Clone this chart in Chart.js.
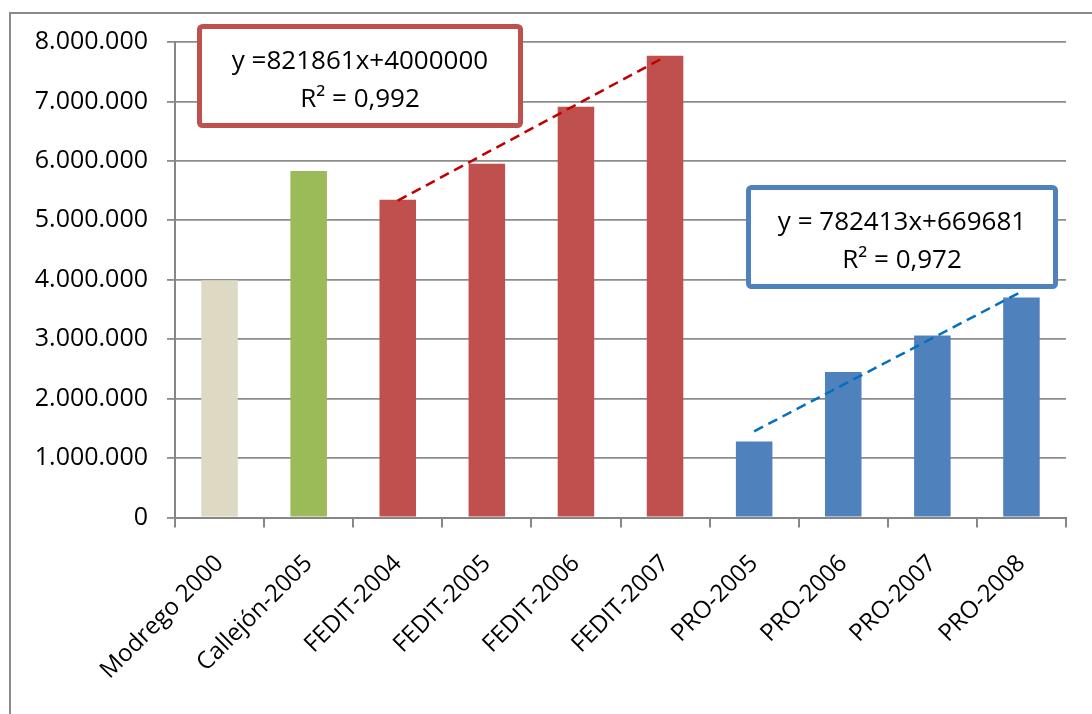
<!DOCTYPE html>
<html>
<head>
<meta charset="utf-8">
<script src="https://cdn.jsdelivr.net/npm/chart.js@4.4.1/dist/chart.umd.min.js"></script>
<style>
  body { margin: 0; background: #fff; }
  .caja { width: 1092px; height: 714px; position: relative; }
</style>
</head>
<body>
<div class="caja"><canvas id="myChart"></canvas></div>
<script>
const categorias = ['Modrego 2000', 'Callejón-2005', 'FEDIT-2004', 'FEDIT-2005', 'FEDIT-2006',
    'FEDIT-2007', 'PRO-2005', 'PRO-2006', 'PRO-2007', 'PRO-2008'];
const valores = [3990000, 5830000, 5345000, 5950000, 6910000, 7770000, 1280000, 2450000, 3060000, 3700000];
const tendenciaFedit = [null, null, 5330000, null, null, 7750000, null, null, null, null];
const tendenciaPro = [null, null, null, null, null, null, 1450000, null, null, 3800000];
const ecuacionFedit = ['y =821861x+4000000', 'R² = 0,992'];
const ecuacionPro = ['y = 782413x+669681', 'R² = 0,972'];

const colores = ['#DDD9C3', '#9BBB59', '#C0504D', '#C0504D', '#C0504D', '#C0504D',
    '#4F81BD', '#4F81BD', '#4F81BD', '#4F81BD'];
const fuente = '"Open Sans", "Liberation Sans", sans-serif';

// marco gris y cajas de las ecuaciones
const extras = {
    id: 'extras',
    beforeDraw(chart) {
        const ctx = chart.ctx;
        ctx.save();
        ctx.strokeStyle = '#8a8a8a';
        ctx.lineWidth = 2;
        ctx.beginPath();
        ctx.moveTo(10, 714);
        ctx.lineTo(10, 13);
        ctx.lineTo(1092, 13);
        ctx.stroke();
        ctx.restore();
    },
    afterDatasetsDraw(chart) {
        const ctx = chart.ctx;
        const caja = (x, y, w, h, color, lineas) => {
            ctx.save();
            ctx.fillStyle = '#fff';
            ctx.strokeStyle = color;
            ctx.lineWidth = 5;
            ctx.beginPath();
            ctx.roundRect(x, y, w, h, 3);
            ctx.fill();
            ctx.stroke();
            ctx.fillStyle = '#000';
            ctx.font = '26px ' + fuente;
            ctx.textAlign = 'center';
            ctx.textBaseline = 'alphabetic';
            ctx.fillText(lineas[0], x + w / 2, y + 42);
            ctx.fillText(lineas[1], x + w / 2, y + 80);
            ctx.restore();
        };
        caja(199.5, 26.5, 321, 99, '#C0504D', ecuacionFedit);
        caja(748.5, 187.5, 307, 99, '#4F81BD', ecuacionPro);
    }
};

const ctx = document.getElementById('myChart');
new Chart(ctx, {
    data: {
        labels: categorias,
        datasets: [{
            type: 'line',
            data: tendenciaFedit,
            borderColor: '#C00000',
            borderWidth: 2.5,
            borderDash: [10, 6],
            pointRadius: 0,
            spanGaps: true,
            order: 0
        }, {
            type: 'line',
            data: tendenciaPro,
            borderColor: '#0070C0',
            borderWidth: 2.5,
            borderDash: [10, 6],
            pointRadius: 0,
            spanGaps: true,
            order: 0
        }, {
            type: 'bar',
            data: valores,
            backgroundColor: colores,
            barPercentage: 0.41,
            categoryPercentage: 1,
            order: 1
        }]
    },
    options: {
        responsive: true,
        maintainAspectRatio: false,
        animation: false,
        layout: { padding: { top: 42, right: 26, left: 0, bottom: 0 } },
        plugins: { legend: { display: false }, tooltip: { enabled: false } },
        scales: {
            x: {
                grid: { drawOnChartArea: false, drawTicks: true, tickLength: 10, color: '#868686', lineWidth: 2 },
                border: { color: '#868686', width: 2 },
                ticks: {
                    color: '#000',
                    font: { family: fuente, size: 24 },
                    minRotation: 45,
                    maxRotation: 45,
                    padding: 22
                },
                afterFit(scale) { scale.height = 196.5; }
            },
            y: {
                min: 0,
                max: 8000000,
                grid: { color: '#8c8c8c', lineWidth: 1.8, tickLength: 8 },
                border: { color: '#868686', width: 2 },
                ticks: {
                    stepSize: 1000000,
                    color: '#000',
                    font: { family: fuente, size: 25 },
                    padding: 19,
                    callback: v => v.toString().replace(/\B(?=(\d{3})+(?!\d))/g, '.')
                },
                afterFit(scale) { scale.width = 175; }
            }
        }
    },
    plugins: [extras]
});
</script>
</body>
</html>
